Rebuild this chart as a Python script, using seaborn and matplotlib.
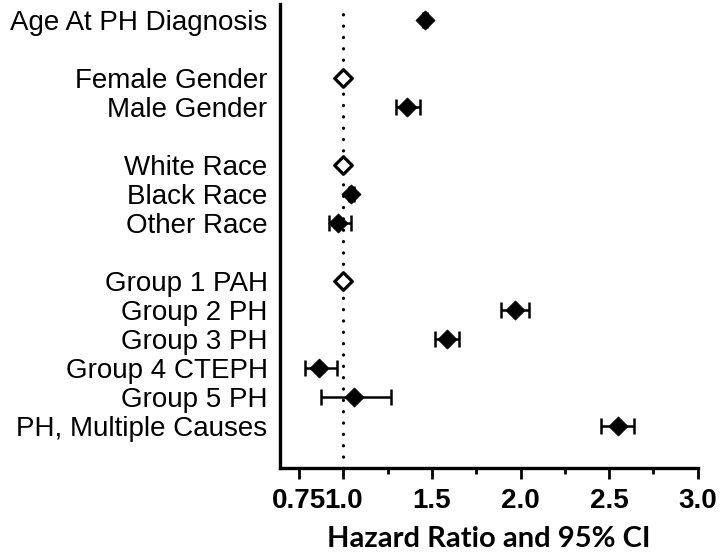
import numpy as np
import matplotlib
matplotlib.use("Agg")
import matplotlib.pyplot as plt
import seaborn as sns
import pandas as pd

# Groups of predictors (a blank row separates each group)
groups = [
    ["Age At PH Diagnosis"],
    ["Female Gender", "Male Gender"],
    ["White Race", "Black Race", "Other Race"],
    ["Group 1 PAH", "Group 2 PH", "Group 3 PH", "Group 4 CTEPH",
     "Group 5 PH", "PH, Multiple Causes"],
]

# Hazard ratios and 95% CI
hr = [1.46, 1.00, 1.36, 1.00, 1.045, 0.97, 1.00, 1.97, 1.585, 0.86, 1.06, 2.55]
ci_low = [1.45, 1.00, 1.295, 1.00, 1.03, 0.92, 1.00, 1.89, 1.517, 0.78, 0.875, 2.455]
ci_high = [1.47, 1.00, 1.43, 1.00, 1.06, 1.04, 1.00, 2.045, 1.65, 0.965, 1.27, 2.64]
is_reference = [False, True, False, True, False, False, True,
                False, False, False, False, False]

major_ticks = [0.75, 1.0, 1.5, 2.0, 2.5, 3.0]
tick_labels = ["0.75", "1.0", "1.5", "2.0", "2.5", "3.0"]
minor_ticks = [1.25, 1.75, 2.25, 2.75]

# row positions with a gap between groups
labels, rows = [], []
pos = 0
for g in groups:
    for name in g:
        labels.append(name)
        rows.append(pos)
        pos += 1
    pos += 1

df = pd.DataFrame({"label": labels, "row": rows, "hr": hr,
                   "lo": ci_low, "hi": ci_high, "ref": is_reference})

sns.set_style("ticks")
plt.rcParams["font.family"] = ["Liberation Sans", "DejaVu Sans"]
plt.rcParams.update({"text.color": "black", "axes.labelcolor": "black",
                     "xtick.color": "black", "ytick.color": "black",
                     "axes.edgecolor": "black"})

fig = plt.figure(figsize=(7.2, 5.56), dpi=100)
ax = fig.add_axes([0.389, 0.158, 0.58, 0.835])

# reference line at HR = 1
ax.axvline(1.0, color="black", lw=2.3, linestyle=(0, (0.05, 3.5)),
           dash_capstyle="round", zorder=1)

# confidence intervals
est = df[~df["ref"]]
ax.errorbar(est["hr"], est["row"],
            xerr=[est["hr"] - est["lo"], est["hi"] - est["hr"]],
            fmt="none", ecolor="black", elinewidth=1.8, capsize=5.5,
            capthick=1.8, zorder=2)

# point estimates
sns.scatterplot(data=est, x="hr", y="row", marker="D", s=95,
                color="black", edgecolor="black", linewidth=0.5,
                ax=ax, zorder=3, legend=False)
ref = df[df["ref"]]
sns.scatterplot(data=ref, x="hr", y="row", marker="D", s=80,
                color="white", edgecolor="black", linewidth=2.3,
                ax=ax, zorder=3, legend=False)

ax.set_xlim(0.642, 3.0)
ax.set_ylim(pos - 1 + 0.45, -0.55)
ax.set_yticks(df["row"])
ax.set_yticklabels(df["label"], fontsize=20)
ax.tick_params(axis="y", length=0, pad=9)

ax.set_xticks(major_ticks)
ax.set_xticklabels(tick_labels, fontsize=20, fontweight="bold")
ax.set_xticks(minor_ticks, minor=True)
ax.tick_params(axis="x", which="major", length=8, width=2, pad=6)
ax.tick_params(axis="x", which="minor", length=4, width=2)

ax.set_xlabel("Hazard Ratio and 95% CI", fontsize=21, fontweight="bold",
              family=["Lato", "DejaVu Sans"], labelpad=9)
ax.set_ylabel("")

sns.despine(ax=ax)
for side in ["left", "bottom"]:
    ax.spines[side].set_linewidth(2.4)

fig.savefig("out.png", dpi=100)
